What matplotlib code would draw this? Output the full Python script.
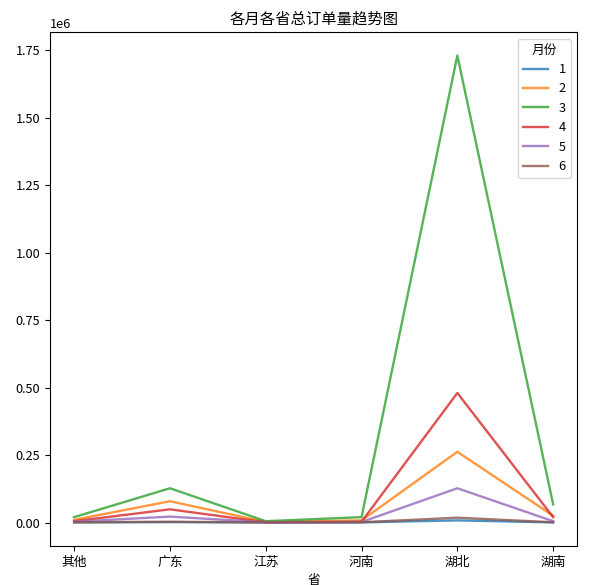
import matplotlib
matplotlib.use('Agg')
import matplotlib.pyplot as plt

plt.rcParams['font.family'] = ['Noto Sans CJK SC', 'DejaVu Sans']
plt.rcParams['axes.unicode_minus'] = False
plt.rcParams['font.size'] = 9.2

provinces = ['其他', '广东', '江苏', '河南', '湖北', '湖南']
months = [1, 2, 3, 4, 5, 6]

m1 = [500, 1500, 300, 600, 8000, 400]
m2 = [10000, 79000, 2000, 8000, 262000, 25000]
m3 = [20000, 127000, 5000, 20000, 1730000, 67000]
m4 = [5000, 49000, 1000, 3000, 480000, 20000]
m5 = [3000, 22000, 1000, 2000, 127000, 5000]
m6 = [1000, 3000, 500, 1000, 18000, 1000]
series = [m1, m2, m3, m4, m5, m6]

fig, ax = plt.subplots(figsize=(6.12, 5.85), dpi=100)
x = range(len(provinces))
for m, vals in zip(months, series):
    ax.plot(x, vals, label=str(m), alpha=0.8, lw=1.7)

ax.set_xticks(list(x))
ax.set_xticklabels(provinces)
ax.set_xlabel('省')
ax.set_title('各月各省总订单量趋势图')
ax.legend(title='月份')
plt.subplots_adjust(left=0.082, right=0.943, top=0.945, bottom=0.067)
plt.savefig('out.png')
